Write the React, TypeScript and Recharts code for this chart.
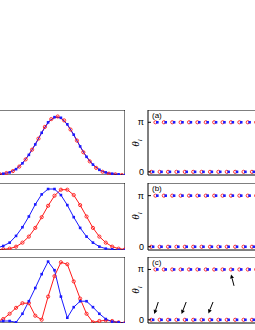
import React from 'react';
import { LineChart, Line, XAxis, YAxis, ScatterChart, Scatter, ReferenceLine } from 'recharts';

// position along the lattice (left panels)
const xGrid = [0, 0.15, 0.3, 0.45, 0.6, 0.75, 0.9, 1.05, 1.2, 1.35, 1.5, 1.65, 1.8, 1.95, 2.1, 2.25, 2.4, 2.55, 2.7, 2.85, 3.0, 3.15, 3.3];
const xGridMid = [0.075, 0.225, 0.375, 0.525, 0.675, 0.825, 0.975, 1.125, 1.275, 1.425, 1.575, 1.725, 1.875, 2.025, 2.175, 2.325, 2.475, 2.625, 2.775, 2.925, 3.075, 3.225];

// panel 1: red sampled between the blue points
const densRedA = [0, 0, 0.01, 0.03, 0.06, 0.13, 0.24, 0.39, 0.56, 0.74, 0.86, 0.9, 0.84, 0.7, 0.53, 0.35, 0.21, 0.11, 0.05, 0.02, 0.01, 0];
const densBlueA = [0, 0, 0.01, 0.02, 0.04, 0.09, 0.18, 0.31, 0.47, 0.65, 0.81, 0.89, 0.88, 0.78, 0.62, 0.44, 0.28, 0.16, 0.08, 0.04, 0.02, 0.01, 0];

const densRedB = [0, 0, 0, 0.01, 0.02, 0.05, 0.11, 0.2, 0.33, 0.49, 0.66, 0.81, 0.9, 0.9, 0.82, 0.67, 0.5, 0.33, 0.2, 0.11, 0.05, 0.02, 0.01];
const densBlueB = [0, 0.01, 0.03, 0.06, 0.11, 0.21, 0.34, 0.5, 0.68, 0.83, 0.91, 0.91, 0.82, 0.67, 0.49, 0.33, 0.2, 0.11, 0.05, 0.02, 0.01, 0, 0];

const densRedC = [0, 0.01, 0.02, 0.06, 0.14, 0.23, 0.3, 0.3, 0.11, 0.05, 0.4, 0.71, 0.92, 0.89, 0.63, 0.37, 0.14, 0.01, 0.03, 0.04, 0.03, 0.01, 0];
const densBlueC = [0, 0.01, 0.02, 0.03, 0.03, 0.01, 0.14, 0.33, 0.53, 0.74, 0.93, 0.8, 0.4, 0.08, 0.24, 0.33, 0.33, 0.24, 0.14, 0.06, 0.02, 0.01, 0];

const posTicks = [1, 2, 3];
const densTicks = [0, 0.5, 1];

// site index and phase (in units of pi) for right panels
const sites = [1, 2, 3, 4, 5, 6, 7, 8, 9, 10, 11, 12, 13, 14, 15, 16, 17, 18, 19, 20, 21, 22, 23, 24, 25, 26, 27, 28, 29, 30, 31, 32, 33, 34, 35, 36, 37, 38, 39, 40];
const phaseRedA = [0, 1, 0, 1, 0, 1, 0, 1, 0, 1, 0, 1, 0, 1, 0, 1, 0, 1, 0, 1, 0, 1, 0, 1, 0, 1, 0, 1, 0, 1, 0, 1, 0, 1, 0, 1, 0, 1, 0, 1];
const phaseBlueA = [0, 1, 0, 1, 0, 1, 0, 1, 0, 1, 0, 1, 0, 1, 0, 1, 0, 1, 0, 1, 0, 1, 0, 1, 0, 1, 0, 1, 0, 1, 0, 1, 0, 1, 0, 1, 0, 1, 0, 1];
const phaseRedB = [0, 1, 0, 1, 0, 1, 0, 1, 0, 1, 0, 1, 0, 1, 0, 1, 0, 1, 0, 1, 0, 1, 0, 1, 0, 1, 0, 1, 0, 1, 0, 1, 0, 1, 0, 1, 0, 1, 0, 1];
const phaseBlueB = [0, 1, 0, 1, 0, 1, 0, 1, 0, 1, 0, 1, 0, 1, 0, 1, 0, 1, 0, 1, 0, 1, 0, 1, 0, 1, 0, 1, 0, 1, 0, 1, 0, 1, 0, 1, 0, 1, 0, 1];
const phaseRedC = [0, 1, 0, 1, 0, 1, 0, 1, 0, 1, 0, 1, 0, 1, 0, 1, 0, 1, 0, 1, 0, 1, 0, 1, 0, 1, 0, 1, 0, 1, 0, 1, 0, 1, 0, 1, 0, 1, 0, 1];
const phaseBlueC = [0, 1, 0, 1, 0, 1, 0, 1, 0, 1, 0, 1, 0, 1, 0, 1, 0, 1, 0, 1, 0, 1, 0, 1, 0, 1, 0, 1, 0, 1, 0, 1, 0, 1, 0, 1, 0, 1, 0, 1];
const siteTicks = [10, 20, 30, 40];
const phaseTicks = [0, Math.PI];

// arrows in panel (c): [tailSite, tailPhase, headSite, headPhase]
const arrowsC = [
  [2.45, 1.11, 1.5, 0.36],
  [9.1, 1.11, 8.0, 0.36],
  [15.5, 1.11, 14.4, 0.4],
  [20.5, 2.12, 19.8, 2.83],
];

const RED = '#ff1a1a';
const BLUE = '#1a1aff';
const FONT = 'Liberation Sans, Arial, sans-serif';

const redDot = (p: any) => (
  <circle key={`r${p.index}`} cx={p.cx} cy={p.cy} r={1.6} fill="none" stroke={RED} strokeWidth={0.9} />
);
const blueDot = (p: any) => (
  <rect key={`b${p.index}`} x={p.cx - 1.3} y={p.cy - 1.3} width={2.6} height={2.6} fill={BLUE} />
);

const Arrow = (p: any) => {
  const { x1, y1, x2, y2 } = p;
  const dx = x2 - x1;
  const dy = y2 - y1;
  const len = Math.sqrt(dx * dx + dy * dy) || 1;
  const ux = dx / len;
  const uy = dy / len;
  const hx = x2 - ux * 4;
  const hy = y2 - uy * 4;
  return (
    <g>
      <line x1={x1} y1={y1} x2={hx} y2={hy} stroke="#000" strokeWidth={1} />
      <polygon points={`${x2},${y2} ${hx - uy * 2},${hy + ux * 2} ${hx + uy * 2},${hy - ux * 2}`} fill="#000" />
    </g>
  );
};

const PhaseTick = (p: any) => (
  <g>
    <line x1={p.x + 4} y1={p.y} x2={p.x + 7} y2={p.y} stroke="#000" strokeWidth={1} />
    <text x={p.x} y={p.y} dy={3} textAnchor="end" fontSize={9} fontFamily={FONT} fill="#000">
      {p.payload.value === 0 ? '0' : 'π'}
    </text>
  </g>
);

const axisStyle = { stroke: '#000', strokeWidth: 1 };

interface DensProps {
  left: number;
  top: number;
  w: number;
  h: number;
  red: number[];
  blue: number[];
  redGrid: number[];
}

const DensityPanel = ({ left, top, w, h, red, blue, redGrid }: DensProps) => {
  const redData = redGrid.map((u, i) => ({ u, red: red[i] }));
  const blueData = xGrid.map((u, i) => ({ u, blue: blue[i] }));
  return (
    <div style={{ position: 'absolute', left: left - 1, top: top - 1 }}>
      <LineChart width={w + 2} height={h + 2} margin={{ top: 0, right: 0, bottom: 0, left: 0 }}>
        <XAxis dataKey="u" type="number" domain={[0, 3.3]} ticks={posTicks} height={1} axisLine={axisStyle} tickLine={axisStyle} tick={false} mirror tickSize={3} allowDuplicatedCategory={false} />
        <XAxis xAxisId="top" dataKey="u" orientation="top" type="number" domain={[0, 3.3]} ticks={posTicks} height={1} axisLine={axisStyle} tickLine={axisStyle} tick={false} mirror tickSize={3} />
        <YAxis type="number" domain={[0, 1]} ticks={densTicks} width={1} axisLine={axisStyle} tickLine={axisStyle} tick={false} mirror tickSize={3} />
        <YAxis yAxisId="right" orientation="right" type="number" domain={[0, 1]} ticks={densTicks} width={1} axisLine={axisStyle} tickLine={axisStyle} tick={false} mirror tickSize={3} />
        <Line data={redData} dataKey="red" stroke={RED} strokeWidth={1} dot={redDot} isAnimationActive={false} />
        <Line data={blueData} dataKey="blue" stroke={BLUE} strokeWidth={1} dot={blueDot} isAnimationActive={false} />
      </LineChart>
    </div>
  );
};

interface PhaseProps {
  left: number;
  top: number;
  w: number;
  h: number;
  label: string;
  red: number[];
  blue: number[];
  arrows?: number[][];
}

const LABEL_W = 20;
const PAD_B = 5;

const PhasePanel = ({ left, top, w, h, label, red, blue, arrows }: PhaseProps) => {
  const redData = sites.map((s, i) => ({ s: s - 0.22, v: red[i] * Math.PI }));
  const blueData = sites.map((s, i) => ({ s: s + 0.22, v: blue[i] * Math.PI }));
  return (
    <div style={{ position: 'absolute', left: left - LABEL_W, top: top - 1 }}>
      <ScatterChart width={w + LABEL_W + 1} height={h + 2 + PAD_B} margin={{ top: 0, right: 1, bottom: PAD_B, left: 0 }}>
        <XAxis dataKey="s" type="number" domain={[0, 41]} ticks={siteTicks} height={1} axisLine={axisStyle} tickLine={axisStyle} tick={false} mirror tickSize={3} />
        <XAxis xAxisId="top" dataKey="s" orientation="top" type="number" domain={[0, 41]} ticks={siteTicks} height={1} axisLine={axisStyle} tickLine={axisStyle} tick={false} mirror tickSize={3} />
        <YAxis
          dataKey="v"
          type="number"
          domain={[-0.2, 3.92]}
          allowDataOverflow
          ticks={phaseTicks}
          interval={0}
          width={LABEL_W}
          axisLine={axisStyle}
          tickLine={false}
          tickSize={0}
          tickMargin={4}
          tick={PhaseTick}
        />
        <Scatter data={redData} shape={redDot} isAnimationActive={false} />
        <Scatter data={blueData} shape={blueDot} isAnimationActive={false} />
        {(arrows || []).map((a, i) => (
          <ReferenceLine key={i} segment={[{ x: a[0], y: a[1] }, { x: a[2], y: a[3] }]} shape={Arrow} ifOverflow="visible" />
        ))}
      </ScatterChart>
      <div style={{ position: 'absolute', left: LABEL_W + 4, top: 1, fontSize: 8, fontFamily: FONT, lineHeight: '9px' }}>
        {label}
      </div>
    </div>
  );
};

const ThetaLabel = ({ top }: { top: number }) => (
  <div
    style={{
      position: 'absolute',
      left: 128,
      top: top - 7,
      width: 14,
      height: 14,
      transform: 'rotate(-90deg)',
      fontFamily: 'Liberation Serif, serif',
      fontStyle: 'italic',
      fontSize: 11,
      lineHeight: '14px',
      textAlign: 'center',
    }}
  >
    θ<sub style={{ fontSize: 7 }}>l</sub>
  </div>
);

export default function App() {
  return (
    <div style={{ position: 'fixed', left: 0, top: 0, width: 255, height: 330, overflow: 'hidden', background: '#fff' }}>
      <DensityPanel left={-15} top={111} w={139} h={63} red={densRedA} blue={densBlueA} redGrid={xGridMid} />
      <DensityPanel left={-15} top={184} w={139} h={65} red={densRedB} blue={densBlueB} redGrid={xGrid} />
      <DensityPanel left={-15} top={258} w={139} h={64} red={densRedC} blue={densBlueC} redGrid={xGrid} />
      <PhasePanel left={148} top={111} w={172} h={63} label="(a)" red={phaseRedA} blue={phaseBlueA} />
      <PhasePanel left={148} top={184} w={172} h={65} label="(b)" red={phaseRedB} blue={phaseBlueB} />
      <PhasePanel left={148} top={258} w={172} h={64} label="(c)" red={phaseRedC} blue={phaseBlueC} arrows={arrowsC} />
      <ThetaLabel top={143} />
      <ThetaLabel top={216} />
      <ThetaLabel top={290} />
    </div>
  );
}
